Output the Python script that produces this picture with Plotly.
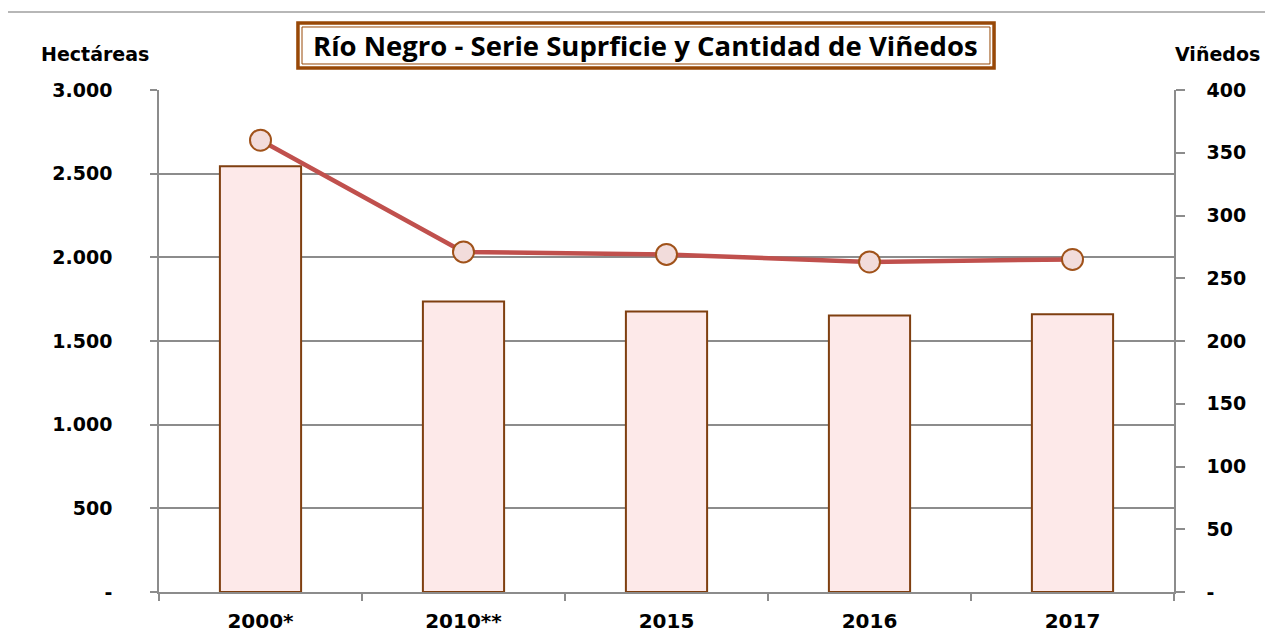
import plotly.graph_objects as go

categories = ["2000*", "2010**", "2015", "2016", "2017"]
hectareas = [2545, 1736, 1677, 1652, 1660]
vinedos = [360, 271, 269, 263, 265]

left_tickvals = [0, 500, 1000, 1500, 2000, 2500, 3000]
left_ticktext = ["-", "500", "1.000", "1.500", "2.000", "2.500", "3.000"]
right_tickvals = [0, 50, 100, 150, 200, 250, 300, 350, 400]
right_ticktext = ["-", "50", "100", "150", "200", "250", "300", "350", "400"]

title_text = "Río Negro - Serie Suprficie y Cantidad de Viñedos"

TICKFONT = dict(family="DejaVu Sans", size=19, color="#000000", weight="bold")
GRID = "#8c8c8c"
BROWN = "#984807"

fig = go.Figure()
fig.add_trace(go.Bar(
    x=categories, y=hectareas, name="Hectáreas",
    marker=dict(color="#FDE9E9", line=dict(color="#7F3F10", width=2)),
    yaxis="y",
))
fig.add_trace(go.Scatter(
    x=categories, y=vinedos, name="Viñedos", mode="lines+markers",
    line=dict(color="#C0504D", width=4.5),
    marker=dict(size=21, color="#F2DCDB", line=dict(color="#A0521A", width=2)),
    yaxis="y2",
))

fig.update_layout(
    width=1273, height=641,
    margin=dict(l=151, r=107, t=82, b=57),
    paper_bgcolor="white", plot_bgcolor="white",
    showlegend=False,
    bargap=0.6,
    xaxis=dict(
        type="category", tickson="boundaries", ticks="outside", ticklen=7,
        tickcolor=GRID, tickwidth=1.5, showline=True, linecolor=GRID, linewidth=1.5,
        showgrid=False, tickfont=dict(family="DejaVu Sans", size=20, color="#000", weight="bold"),
        ticklabelstandoff=10,
    ),
    yaxis=dict(
        range=[0, 3000], tickvals=left_tickvals, ticktext=left_ticktext,
        showgrid=True, gridcolor=GRID, gridwidth=1.5,
        showline=True, linecolor=GRID, linewidth=1.5,
        ticks="outside", ticklen=7, tickcolor=GRID, tickwidth=1.5,
        tickfont=TICKFONT, ticklabelstandoff=34, zeroline=False,
    ),
    yaxis2=dict(
        range=[0, 400], tickvals=right_tickvals, ticktext=right_ticktext,
        overlaying="y", side="right", showgrid=False,
        showline=True, linecolor=GRID, linewidth=1.5,
        ticks="outside", ticklen=9, tickcolor=GRID, tickwidth=1.5,
        tickfont=TICKFONT, ticklabelstandoff=18, zeroline=False,
    ),
    annotations=[
        dict(text=title_text, xref="paper", yref="paper", x=0.4798, y=1.0886,
             xanchor="center", yanchor="middle", showarrow=False,
             font=dict(family="Open Sans", size=27.5, color="#000", weight="bold")),
        dict(text="Hectáreas", xref="paper", yref="paper", x=-0.0631, y=1.0717,
             xanchor="center", yanchor="middle", showarrow=False,
             font=dict(family="DejaVu Sans", size=19, color="#000", weight="bold")),
        dict(text="Viñedos", xref="paper", yref="paper", x=1.0433, y=1.0717,
             xanchor="center", yanchor="middle", showarrow=False,
             font=dict(family="DejaVu Sans", size=19, color="#000", weight="bold")),
    ],
    shapes=[
        dict(type="rect", xref="paper", yref="paper", x0=-0.1498, x1=1.0926,
             y0=-0.2, y1=1.1554, line=dict(color="#a0a0a0", width=1.5), layer="below"),
        dict(type="rect", xref="paper", yref="paper", x0=0.1369, x1=0.8227,
             y0=1.0438, y1=1.1335, line=dict(color=BROWN, width=3.5),
             fillcolor="white", layer="below"),
        dict(type="rect", xref="paper", yref="paper", x0=0.1409, x1=0.8187,
             y0=1.0518, y1=1.1255, line=dict(color=BROWN, width=1), layer="below"),
    ],
)

fig.write_html("out.html")
